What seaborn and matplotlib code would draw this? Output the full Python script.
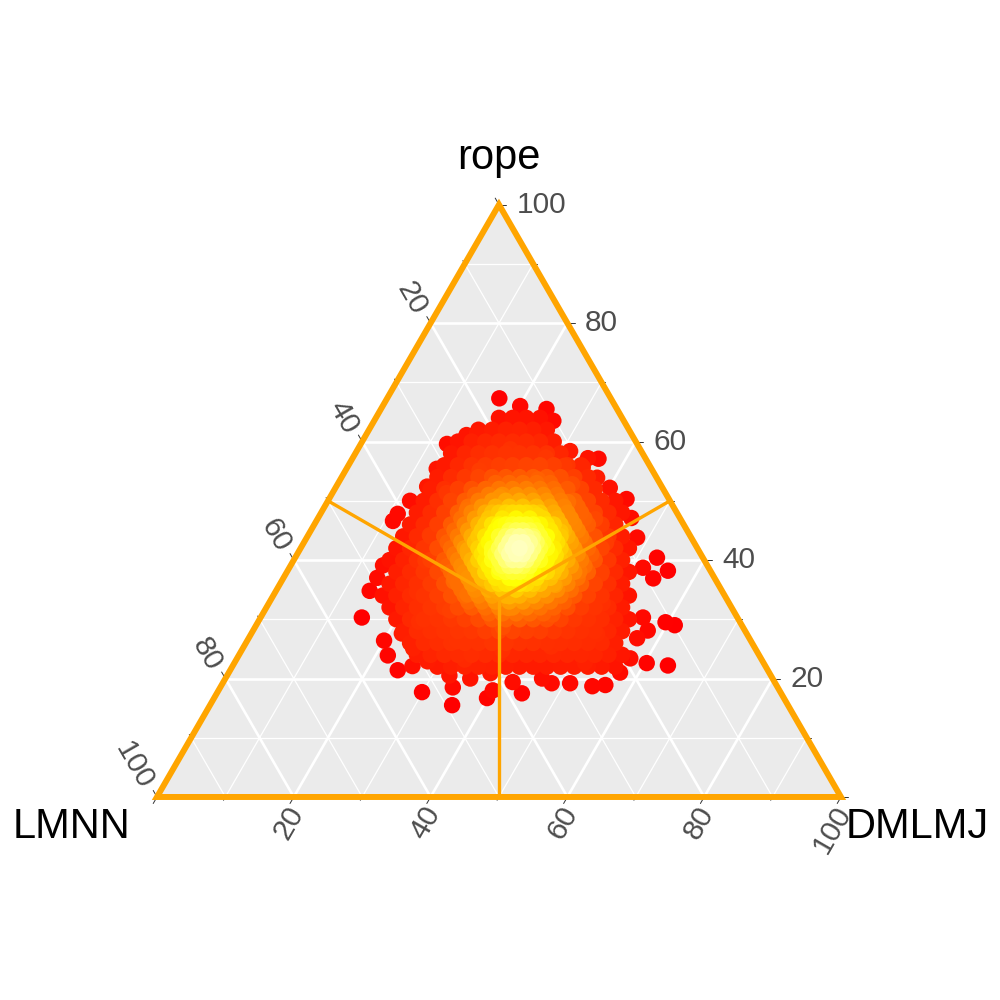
import numpy as np
import pandas as pd
import matplotlib
matplotlib.use("Agg")
import matplotlib.pyplot as plt
import seaborn as sns
from matplotlib.colors import LinearSegmentedColormap, PowerNorm
from matplotlib.patches import Polygon

# ---------------------------------------------------------------
# Data : (rope %, DMLMJ %), LMNN = 100 - both
# ---------------------------------------------------------------
# scattered points around the edge of the cloud
outer = [
    (67.3, 16.4), (66.0, 20.1), (65.5, 24.2), (63.5, 26.2), (59.6, 12.6),
    (61.1, 14.7), (61.4, 16.1), (58.4, 31.2), (57.2, 34.4), (57.1, 36.0),
    (55.4, 13.2), (52.4, 13.3), (55.7, 34.4), (53.9, 37.4), (52.2, 40.1),
    (50.3, 43.5), (47.1, 45.8), (43.8, 48.3), (47.8, 11.3), (46.6, 11.2),
    (40.4, 52.9), (38.2, 55.6), (38.7, 51.7), (36.9, 54.1), (29.5, 59.6),
    (29.0, 61.2), (28.1, 57.7), (26.8, 56.8), (22.2, 63.6), (22.6, 60.3),
    (23.4, 57.5), (21.0, 57.2), (18.9, 56.1), (18.7, 54.3), (19.2, 50.8),
    (19.2, 48.1), (17.5, 44.6), (19.4, 42.3), (20.0, 46.3), (30.3, 55.9),
    (30.3, 14.8), (34.8, 13.7), (39.1, 13.5), (37.0, 13.7), (26.4, 20.0),
    (23.9, 21.8), (21.4, 24.5), (22.1, 26.3), (22.9, 28.1), (17.7, 29.9),
    (20.5, 32.5), (18.5, 34.0), (15.5, 35.4), (20.0, 35.8), (16.7, 39.9),
    (18.0, 40.1), (20.9, 38.3), (27.6, 22.0), (25.1, 24.9),
]

# main body of the cloud
body = [
    (64, 18), (64, 20), (64, 22), (64, 24),
    (62, 16), (62, 18), (62, 20), (62, 22), (62, 24), (62, 26),
    (60, 14), (60, 16), (60, 18), (60, 20), (60, 22), (60, 24), (60, 26), (60, 28),
    (58, 14), (58, 16), (58, 18), (58, 20), (58, 22), (58, 24), (58, 26), (58, 28), (58, 30),
    (56, 14), (56, 16), (56, 18), (56, 20), (56, 22), (56, 24), (56, 26), (56, 28), (56, 30),
    (56, 32), (56, 34),
    (54, 14), (54, 16), (54, 18), (54, 20), (54, 22), (54, 24), (54, 26), (54, 28), (54, 30),
    (54, 32), (54, 34), (54, 36),
    (52, 14), (52, 16), (52, 18), (52, 20), (52, 22), (52, 24), (52, 26), (52, 28), (52, 30),
    (52, 32), (52, 34), (52, 36), (52, 38),
    (50, 12), (50, 14), (50, 16), (50, 18), (50, 20), (50, 22), (50, 24), (50, 26), (50, 28),
    (50, 30), (50, 32), (50, 34), (50, 36), (50, 38), (50, 40), (50, 42),
    (48, 14), (48, 16), (48, 18), (48, 20), (48, 22), (48, 24), (48, 26), (48, 28), (48, 30),
    (48, 32), (48, 34), (48, 36), (48, 38), (48, 40), (48, 42), (48, 44),
    (46, 14), (46, 16), (46, 18), (46, 20), (46, 22), (46, 24), (46, 26), (46, 28), (46, 30),
    (46, 32), (46, 34), (46, 36), (46, 38), (46, 40), (46, 42), (46, 44),
    (44, 14), (44, 16), (44, 18), (44, 20), (44, 22), (44, 24), (44, 26), (44, 28), (44, 30),
    (44, 32), (44, 34), (44, 36), (44, 38), (44, 40), (44, 42), (44, 44), (44, 46),
    (42, 14), (42, 16), (42, 18), (42, 20), (42, 22), (42, 24), (42, 26), (42, 28), (42, 30),
    (42, 32), (42, 34), (42, 36), (42, 38), (42, 40), (42, 42), (42, 44), (42, 46), (42, 48),
    (40, 14), (40, 16), (40, 18), (40, 20), (40, 22), (40, 24), (40, 26), (40, 28), (40, 30),
    (40, 32), (40, 34), (40, 36), (40, 38), (40, 40), (40, 42), (40, 44), (40, 46), (40, 48),
    (38, 16), (38, 18), (38, 20), (38, 22), (38, 24), (38, 26), (38, 28), (38, 30), (38, 32),
    (38, 34), (38, 36), (38, 38), (38, 40), (38, 42), (38, 44), (38, 46), (38, 48), (38, 50),
    (36, 16), (36, 18), (36, 20), (36, 22), (36, 24), (36, 26), (36, 28), (36, 30), (36, 32),
    (36, 34), (36, 36), (36, 38), (36, 40), (36, 42), (36, 44), (36, 46), (36, 48), (36, 50),
    (34, 16), (34, 18), (34, 20), (34, 22), (34, 24), (34, 26), (34, 28), (34, 30), (34, 32),
    (34, 34), (34, 36), (34, 38), (34, 40), (34, 42), (34, 44), (34, 46), (34, 48), (34, 50),
    (34, 52),
    (32, 18), (32, 20), (32, 22), (32, 24), (32, 26), (32, 28), (32, 30), (32, 32), (32, 34),
    (32, 36), (32, 38), (32, 40), (32, 42), (32, 44), (32, 46), (32, 48), (32, 50), (32, 52),
    (30, 20), (30, 22), (30, 24), (30, 26), (30, 28), (30, 30), (30, 32), (30, 34), (30, 36),
    (30, 38), (30, 40), (30, 42), (30, 44), (30, 46), (30, 48), (30, 50), (30, 52), (30, 54),
    (28, 22), (28, 24), (28, 26), (28, 28), (28, 30), (28, 32), (28, 34), (28, 36), (28, 38),
    (28, 40), (28, 42), (28, 44), (28, 46), (28, 48), (28, 50), (28, 52), (28, 54),
    (26, 24), (26, 26), (26, 28), (26, 30), (26, 32), (26, 34), (26, 36), (26, 38), (26, 40),
    (26, 42), (26, 44), (26, 46), (26, 48), (26, 50), (26, 52), (26, 54),
    (24, 26), (24, 28), (24, 30), (24, 32), (24, 34), (24, 36), (24, 38), (24, 40), (24, 42),
    (24, 44), (24, 46), (24, 48), (24, 50), (24, 52), (24, 54), (24, 56),
    (22, 30), (22, 32), (22, 34), (22, 36), (22, 38), (22, 40), (22, 42), (22, 44), (22, 46),
    (22, 48), (22, 50), (22, 52), (22, 54), (22, 56),
]

# loose points spread over the body
loose = [
    (58.7, 22.3), (55.1, 19.6), (53.6, 28.9), (51.3, 16.7), (49.8, 35.2), (48.4, 21.1),
    (46.9, 40.6), (45.7, 27.4), (44.2, 17.8), (43.6, 33.1), (42.9, 44.2), (41.7, 24.6),
    (40.8, 37.9), (39.9, 19.3), (38.6, 30.8), (37.7, 46.1), (36.4, 25.2), (35.8, 40.3),
    (34.6, 20.7), (33.9, 34.6), (32.7, 48.8), (31.5, 27.1), (30.8, 42.4), (29.6, 23.5),
    (28.7, 36.2), (27.5, 50.6), (26.3, 30.7), (25.4, 44.9), (24.8, 38.1), (23.2, 33.4),
    (22.7, 51.2), (57.3, 28.2), (55.9, 31.6), (52.8, 34.3), (50.6, 24.8), (47.5, 31.9),
    (44.8, 36.6), (41.2, 28.4), (38.1, 42.7), (36.9, 33.8), (34.2, 28.3), (31.9, 35.4),
]

# denser middle part
mid = [
    (53, 23), (53, 25), (53, 27), (53, 29), (53, 31),
    (51, 21), (51, 23), (51, 25), (51, 27), (51, 29), (51, 31), (51, 33),
    (49, 21), (49, 23), (49, 25), (49, 27), (49, 29), (49, 31), (49, 33), (49, 35), (49, 37),
    (47, 21), (47, 23), (47, 25), (47, 27), (47, 29), (47, 31), (47, 33), (47, 35), (47, 37),
    (47, 39),
    (45, 21), (45, 23), (45, 25), (45, 27), (45, 29), (45, 31), (45, 33), (45, 35), (45, 37),
    (45, 39),
    (43, 21), (43, 23), (43, 25), (43, 27), (43, 29), (43, 31), (43, 33), (43, 35), (43, 37),
    (43, 39), (43, 41),
    (41, 23), (41, 25), (41, 27), (41, 29), (41, 31), (41, 33), (41, 35), (41, 37), (41, 39),
    (41, 41), (41, 43),
    (39, 23), (39, 25), (39, 27), (39, 29), (39, 31), (39, 33), (39, 35), (39, 37), (39, 39),
    (39, 41), (39, 43),
    (37, 25), (37, 27), (37, 29), (37, 31), (37, 33), (37, 35), (37, 37), (37, 39), (37, 41),
    (37, 43),
    (35, 27), (35, 29), (35, 31), (35, 33), (35, 35), (35, 37), (35, 39), (35, 41), (35, 43),
    (33, 29), (33, 31), (33, 33), (33, 35), (33, 37), (33, 39), (33, 41), (33, 43),
    (31, 33), (31, 35), (31, 37), (31, 39), (31, 41),
]

# yellow core
core = [
    (48, 25), (48, 27), (48, 29), (48, 31),
    (46, 25), (46, 27), (46, 29), (46, 31), (46, 33), (46, 35),
    (44, 25), (44, 27), (44, 29), (44, 31), (44, 33), (44, 35), (44, 37),
    (42, 27), (42, 29), (42, 31), (42, 33), (42, 35), (42, 37),
    (40, 27), (40, 29), (40, 31), (40, 33), (40, 35), (40, 37), (40, 39),
    (38, 29), (38, 31), (38, 33), (38, 35), (38, 37), (38, 39),
    (36, 31), (36, 33), (36, 35), (36, 37),
]

# pale centre
peak = [
    (45, 30), (45, 32),
    (43, 30), (43, 32), (43, 34),
    (41, 30), (41, 32), (41, 34),
    (39, 32), (39, 34),
]

tick_values = [20, 40, 60, 80, 100]
axis_titles = {"left": "LMNN", "right": "DMLMJ", "top": "rope"}

# R heat.colors(10)
heat_colors = ["#FF0000", "#FF2400", "#FF4900", "#FF6D00", "#FF9200",
               "#FFB600", "#FFDB00", "#FFFF00", "#FFFF40", "#FFFFBF"]

ORANGE = "#FFA500"
S3 = np.sqrt(3) / 2


def tern(rope, dmlmj):
    # ternary -> cartesian (LMNN bottom-left, DMLMJ bottom-right, rope top)
    rope = np.asarray(rope, dtype=float)
    dmlmj = np.asarray(dmlmj, dtype=float)
    return dmlmj + rope / 2, rope * S3


# ---------------------------------------------------------------
# Data frame + point density (for the colours)
# ---------------------------------------------------------------
df = pd.DataFrame(outer + body + loose + mid + core + peak, columns=["rope", "DMLMJ"])
df["LMNN"] = 100 - df["rope"] - df["DMLMJ"]
df["x"], df["y"] = tern(df["rope"], df["DMLMJ"])

xy = df[["x", "y"]].to_numpy()
d2 = ((xy[:, None, :] - xy[None, :, :]) ** 2).sum(-1)
bw = 2.6
df["density"] = np.exp(-d2 / (2 * bw * bw)).sum(axis=1)
df = df.sort_values("density")

heat = LinearSegmentedColormap.from_list("heat10", heat_colors)
dens_norm = PowerNorm(gamma=1.5, vmin=df["density"].min(), vmax=df["density"].max())

# ---------------------------------------------------------------
# Figure
# ---------------------------------------------------------------
sns.set_theme(style="white")
plt.rcParams["font.family"] = ["Liberation Sans", "DejaVu Sans"]

fig = plt.figure(figsize=(10, 10), dpi=100)
ax = fig.add_axes([0, 0, 1, 1])
ax.set_xlim(-22.95, 123.25)
ax.set_ylim(-29.68, 116.52)
ax.axis("off")

# grey panel
corners = [tern(0, 0), tern(0, 100), tern(100, 0)]
ax.add_patch(Polygon(corners, closed=True, facecolor="#EBEBEB", edgecolor="none", zorder=0))

# white grid
for v in range(10, 100, 10):
    lw = 1.9 if v % 20 == 0 else 0.9
    segs = [(tern(v, 0), tern(v, 100 - v)),
            (tern(0, v), tern(100 - v, v)),
            (tern(0, 100 - v), tern(100 - v, 0))]
    for (x0, y0), (x1, y1) in segs:
        ax.plot([x0, x1], [y0, y1], color="white", lw=lw, zorder=1, solid_capstyle="butt")

# points
sns.scatterplot(data=df, x="x", y="y", hue="density", palette=heat, hue_norm=dens_norm,
                s=140, linewidth=0, legend=False, ax=ax, zorder=3)

# orange lines from the centre to the middle of each side
cx, cy = tern(100 / 3, 100 / 3)
for (mx, my) in [tern(0, 50), tern(50, 0), tern(50, 50)]:
    ax.plot([cx, mx], [cy, my], color=ORANGE, lw=2.4, zorder=4, solid_capstyle="butt")

# orange frame
ax.add_patch(Polygon(corners, closed=True, fill=False, edgecolor=ORANGE,
                     lw=4.3, joinstyle="miter", zorder=5))

# ticks
tick_col = "#333333"
for v in range(0, 101, 10):
    ln = 1.1 if v % 20 == 0 else 0.55
    # bottom axis (DMLMJ)
    bx, by = tern(0, v)
    ax.plot([bx, bx - 0.5 * ln], [by, by - S3 * ln], color=tick_col, lw=0.7, zorder=4.5)
    # right axis (rope)
    rx, ry = tern(v, 100 - v)
    ax.plot([rx, rx + ln], [ry, ry], color=tick_col, lw=0.7, zorder=4.5)
    # left axis (LMNN)
    lx, ly = tern(100 - v, 0)
    ax.plot([lx, lx - 0.5 * ln], [ly, ly + S3 * ln], color=tick_col, lw=0.7, zorder=4.5)

lab_col = "#4D4D4D"
for v in tick_values:
    bx, by = tern(0, v)
    ax.text(bx + 0.5, by - 1.6, str(v), rotation=60, rotation_mode="anchor",
            ha="right", va="center", fontsize=21.5, color=lab_col)
    rx, ry = tern(v, 100 - v)
    ax.text(rx + 2.6, ry, str(v), ha="left", va="center", fontsize=21.5, color=lab_col)
    lx, ly = tern(100 - v, 0)
    ax.text(lx - 1.5, ly + 1.5, str(v), rotation=-60, rotation_mode="anchor",
            ha="right", va="center", fontsize=21.5, color=lab_col)

# axis titles at the corners
ax.text(-3.95, -6.0, axis_titles["left"], ha="right", va="baseline", fontsize=30, color="black")
ax.text(100.7, -6.0, axis_titles["right"], ha="left", va="baseline", fontsize=30, color="black")
ax.text(50, 91.8, axis_titles["top"], ha="center", va="baseline", fontsize=30, color="black")

fig.savefig("out.png", dpi=100, facecolor="white")
